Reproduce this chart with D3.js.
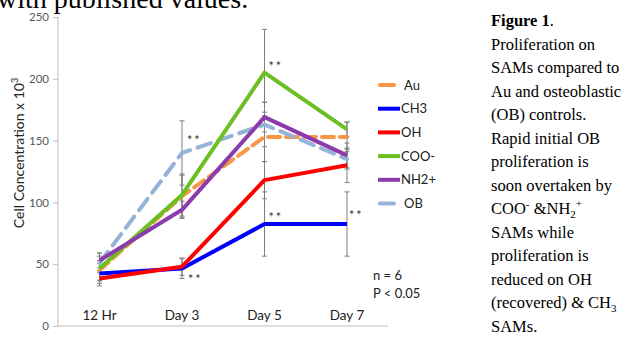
<!DOCTYPE html>
<html><head><meta charset="utf-8">
<script src="https://cdn.jsdelivr.net/npm/d3@7"></script>
<style>
html,body{margin:0;padding:0;background:#fff;overflow:hidden;}
svg{display:block;}
</style></head>
<body>
<svg id="c" width="623" height="348"></svg>
<script>
const categories = ["12 Hr", "Day 3", "Day 5", "Day 7"];
const seriesNames = ["Au", "CH3", "OH", "COO-", "NH2+", "OB"];
const auValues   = [45, 105, 153, 153];
const ch3Values  = [42.5, 46.5, 82.5, 82.5];
const ohValues   = [38.5, 48, 118, 130];
const cooValues  = [46.5, 106, 205, 159];
const nh2Values  = [53, 94, 169, 138];
const obValues   = [51, 140, 163, 135];
const auErr  = [8, 17, 20, 12];
const ch3Err = [8, 8, 26, 26];
const ohErr  = [6, 7, 15, 14];
const cooErr = [10, 17, 35, 6];
const nh2Err = [6, 7, 12, 10];
const obErr  = [8, 26, 18, 8];
const yTicks = [0, 50, 100, 150, 200, 250];
const sigMarks = [
  {cat: "Day 3", value: 140, dx: 5, dy: -8},
  {cat: "Day 3", value: 46.5, dx: 6, dy: 15},
  {cat: "Day 5", value: 205, dx: 4, dy: -2},
  {cat: "Day 5", value: 82.5, dx: 4, dy: -2},
  {cat: "Day 7", value: 82.5, dx: 2, dy: -4}
];
const captionLines = [
  "Proliferation on", "SAMs compared to", "Au and osteoblastic",
  "(OB) controls.", "Rapid initial OB", "proliferation is",
  "soon overtaken by", null, "SAMs while", "proliferation is",
  "reduced on OH", null, "SAMs."
];

const series = [
  {name: "Au",   values: auValues,  err: auErr,  color: "#F79646", dash: "12,6"},
  {name: "CH3",  values: ch3Values, err: ch3Err, color: "#0000FF", dash: null},
  {name: "OH",   values: ohValues,  err: ohErr,  color: "#FF0000", dash: null},
  {name: "COO-", values: cooValues, err: cooErr, color: "#6BBF22", dash: null},
  {name: "NH2+", values: nh2Values, err: nh2Err, color: "#8B3BAB", dash: null},
  {name: "OB",   values: obValues,  err: obErr,  color: "#95B3D7", dash: "14,8"}
];

const svg = d3.select("#c");
const x = d3.scalePoint().domain(categories).range([99.5, 347]);
const y = d3.scaleLinear().domain([0, 250]).range([326, 17]);
const sans = "Lato, 'Open Sans', sans-serif";

// top cropped text
svg.append("text").attr("x", -3).attr("y", 8)
  .attr("font-family", "Liberation Serif").attr("font-size", 28)
  .attr("fill", "#000").text("with published values.");

// axes
const axisColor = "#BFBFBF";
svg.append("line").attr("x1", 58).attr("x2", 58).attr("y1", y(250)).attr("y2", y(0))
  .attr("stroke", axisColor);
svg.append("line").attr("x1", 58).attr("x2", 388).attr("y1", y(0)).attr("y2", y(0))
  .attr("stroke", axisColor);
const yAxis = svg.append("g").attr("transform", "translate(58,0)")
  .call(d3.axisLeft(y).tickValues(yTicks).tickSize(5).tickPadding(4));
yAxis.select(".domain").remove();
yAxis.selectAll("line").attr("stroke", axisColor);
yAxis.selectAll("text").attr("font-family", sans)
  .attr("font-size", 11.5).attr("fill", "#595959");

// category labels (inside plot, just above axis)
svg.append("g").selectAll("text").data(categories).join("text")
  .attr("x", d => x(d)).attr("y", y(0) - 6).attr("text-anchor", "middle")
  .attr("font-family", sans).attr("font-size", 13.5)
  .attr("fill", "#222").text(d => d);

// y axis title
const yt = svg.append("text").attr("transform", "translate(24,153) rotate(-90)")
  .attr("text-anchor", "middle").attr("font-family", sans)
  .attr("font-size", 14).attr("fill", "#222");
yt.append("tspan").text("Cell Concentration x 10");
yt.append("tspan").attr("font-size", 9).attr("dy", -6).text("3");

// error bars
const eb = svg.append("g").attr("stroke", "#7F7F7F").attr("stroke-width", 1);
series.forEach(s => {
  categories.forEach((c, i) => {
    const v = s.values[i], e = s.err[i];
    eb.append("line").attr("x1", x(c)).attr("x2", x(c))
      .attr("y1", y(v - e)).attr("y2", y(v + e));
    [v - e, v + e].forEach(t => eb.append("line")
      .attr("x1", x(c) - 2.5).attr("x2", x(c) + 2.5).attr("y1", y(t)).attr("y2", y(t)));
  });
});

// lines
const line = d3.line().x((d, i) => x(categories[i])).y(d => y(d));
const drawOrder = ["Au", "OB", "CH3", "OH", "COO-", "NH2+"];
drawOrder.forEach(n => {
  const s = series.find(t => t.name === n);
  svg.append("path").datum(s.values).attr("d", line)
    .attr("fill", "none").attr("stroke", s.color).attr("stroke-width", 4)
    .attr("stroke-linejoin", "round")
    .attr("stroke-linecap", s.dash ? "round" : "butt")
    .attr("stroke-dasharray", s.dash);
});

// significance marks
svg.append("g").selectAll("text").data(sigMarks).join("text")
  .attr("x", d => x(d.cat) + d.dx).attr("y", d => y(d.value) + d.dy)
  .attr("font-family", sans).attr("font-size", 12.5)
  .attr("letter-spacing", 2).attr("fill", "#333").text("**");

// legend
const lg = svg.append("g").attr("transform", "translate(378,85)");
series.forEach((s, i) => {
  const g = lg.append("g").attr("transform", `translate(0,${i * 23.7})`);
  g.append("line").attr("x1", s.dash ? 2 : 0).attr("x2", s.dash ? 16 : 22)
    .attr("y1", 0).attr("y2", 0).attr("stroke", s.color).attr("stroke-width", 4)
    .attr("stroke-linecap", s.dash ? "round" : "butt");
  g.append("text").attr("x", s.dash ? 26 : 23).attr("y", 4.5)
    .attr("font-family", sans).attr("font-size", 13)
    .attr("fill", "#222").text(s.name);
});

svg.append("text").attr("x", 373).attr("y", 280)
  .attr("font-family", sans).attr("font-size", 13)
  .attr("fill", "#222").text("n = 6");
svg.append("text").attr("x", 373).attr("y", 298)
  .attr("font-family", sans).attr("font-size", 13)
  .attr("fill", "#222").text("P < 0.05");

// caption
const cap = svg.append("g").attr("font-family", "Liberation Serif")
  .attr("font-size", 16.5).attr("fill", "#000");
const lh = 23.5, x0 = 491, b0 = 26;
const t0 = cap.append("text").attr("x", x0).attr("y", b0);
t0.append("tspan").attr("font-weight", "bold").text("Figure 1");
t0.append("tspan").text(".");
captionLines.forEach((l, i) => {
  const by = b0 + (i + 1) * lh;
  if (l !== null) { cap.append("text").attr("x", x0).attr("y", by).text(l); return; }
  const t = cap.append("text").attr("x", x0).attr("y", by);
  if (i === 7) {
    t.append("tspan").text("COO");
    t.append("tspan").attr("font-size", 11).attr("dy", -6).text("-");
    t.append("tspan").attr("dy", 6).text(" &NH");
    t.append("tspan").attr("font-size", 11).attr("dy", 4).text("2");
    t.append("tspan").attr("font-size", 11).attr("dy", -11).text("+");
  } else {
    t.append("tspan").text("(recovered) & CH");
    t.append("tspan").attr("font-size", 11).attr("dy", 4).text("3");
  }
});
</script>
</body></html>
